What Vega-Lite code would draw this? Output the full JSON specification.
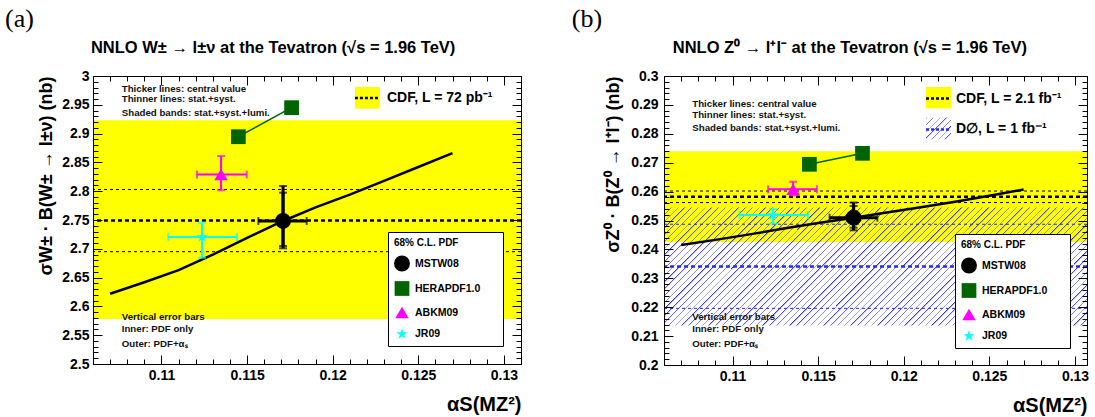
{
"$schema": "https://vega.github.io/schema/vega-lite/v6.json",
"padding": {"left": 4, "top": 5, "right": 8, "bottom": 0},
"bounds": "flush",
"spacing": 143,
"resolve": {"scale": {"color": "independent", "shape": "independent", "size": "independent"}, "legend": {"color": "independent", "shape": "independent", "size": "independent"}},
"config": {
  "font": "Liberation Sans",
  "view": {"stroke": "black", "strokeWidth": 1},
  "axis": {"grid": false, "domainColor": "black", "domainWidth": 1, "tickColor": "black", "tickWidth": 1, "labelColor": "black", "labelFont": "Liberation Sans", "labelFontWeight": "bold", "labelFontSize": 14, "titleColor": "black", "titleFont": "Liberation Sans", "titleFontWeight": "bold", "labelFlush": false, "labelOverlap": false},
  "legend": {"labelFont": "Liberation Sans", "titleFont": "Liberation Sans", "labelColor": "black", "titleColor": "black", "labelFontWeight": "bold", "titleFontWeight": "bold", "labelFontSize": 10.5, "titleFontSize": 10, "fillColor": "white", "strokeColor": "black", "padding": 6, "rowPadding": 9.5, "titlePadding": 7.5, "labelOffset": 5, "symbolStrokeWidth": 0},
  "text": {"font": "Liberation Sans"}
},
"datasets": {
  "bandW": [{"exp": "CDF", "v": 2.578, "v2": 2.923}],
  "lineW": [{"exp": "CDF", "k": "central", "v": 2.749}, {"exp": "CDF", "k": "stat+syst", "v": 2.695}, {"exp": "CDF", "k": "stat+syst", "v": 2.803}],
  "curveW": [{"a": 0.107, "v": 2.622}, {"a": 0.109, "v": 2.642}, {"a": 0.111, "v": 2.663}, {"a": 0.113, "v": 2.69}, {"a": 0.115, "v": 2.719}, {"a": 0.117, "v": 2.747}, {"a": 0.119, "v": 2.772}, {"a": 0.121, "v": 2.794}, {"a": 0.123, "v": 2.818}, {"a": 0.125, "v": 2.842}, {"a": 0.127, "v": 2.866}],
  "ptsW": [{"pdf": "MSTW08", "a": 0.1171, "v": 2.7483}, {"pdf": "HERAPDF1.0", "a": 0.11449, "v": 2.8946}, {"pdf": "HERAPDF1.0", "a": 0.1176, "v": 2.945}, {"pdf": "ABKM09", "a": 0.11348, "v": 2.829}, {"pdf": "JR09", "a": 0.11237, "v": 2.7205}],
  "errW": [
    {"pdf": "MSTW08", "dir": "v", "k": "outer", "a": 0.1171, "v": 2.7009, "v2": 2.809},
    {"pdf": "MSTW08", "dir": "v", "k": "inner", "a": 0.1171, "v": 2.7049, "v2": 2.7974},
    {"pdf": "ABKM09", "dir": "v", "k": "outer", "a": 0.11348, "v": 2.8016, "v2": 2.861},
    {"pdf": "JR09", "dir": "v", "k": "outer", "a": 0.11237, "v": 2.6845, "v2": 2.7453},
    {"pdf": "MSTW08", "dir": "h", "k": "alphas", "a": 0.11566, "a2": 0.11848, "v": 2.7483},
    {"pdf": "ABKM09", "dir": "h", "k": "alphas", "a": 0.11207, "a2": 0.11498, "v": 2.829},
    {"pdf": "JR09", "dir": "h", "k": "alphas", "a": 0.1104, "a2": 0.1144, "v": 2.7205}
  ],
  "noteW": [{"t": "Thicker lines: central value", "a": 0.10768, "v": 2.9769}, {"t": "Thinner lines: stat.+syst.", "a": 0.10768, "v": 2.9596}, {"t": "Shaded bands: stat.+syst.+lumi.", "a": 0.10768, "v": 2.9352}, {"t": "Vertical error bars", "a": 0.10768, "v": 2.5816}, {"t": "Inner: PDF only", "a": 0.10768, "v": 2.5602}, {"t": "Outer: PDF+αₛ", "a": 0.10768, "v": 2.5342}],
  "tagW": [{"t": "(a)", "a": 0.10086, "v": 3.122}],
  "headW": [{"t": "NNLO W± → l±ν at the Tevatron (√s = 1.96 TeV)", "a": 0.10588, "v": 3.0391}],
  "keyW": [{"exp": "CDF", "a": 0.1213, "a2": 0.12276, "v": 2.9432, "v2": 2.981, "vm": 2.962, "at": 0.12317, "t": "CDF, L = 72 pb⁻¹"}],
  "bandZ": [{"exp": "CDF", "v": 0.2426, "v2": 0.274}, {"exp": "D0", "v": 0.2137, "v2": 0.2545}],
  "lineZ": [{"exp": "CDF", "k": "central", "v": 0.2582}, {"exp": "CDF", "k": "stat+syst", "v": 0.2562}, {"exp": "CDF", "k": "stat+syst", "v": 0.2602}, {"exp": "D0", "k": "central", "v": 0.2341}, {"exp": "D0", "k": "stat+syst", "v": 0.2196}, {"exp": "D0", "k": "stat+syst", "v": 0.2487}],
  "curveZ": [{"a": 0.107, "v": 0.2415}, {"a": 0.109, "v": 0.2433}, {"a": 0.111, "v": 0.2452}, {"a": 0.113, "v": 0.2472}, {"a": 0.115, "v": 0.2491}, {"a": 0.117, "v": 0.2509}, {"a": 0.119, "v": 0.2528}, {"a": 0.121, "v": 0.2546}, {"a": 0.123, "v": 0.2565}, {"a": 0.125, "v": 0.2586}, {"a": 0.127, "v": 0.2607}],
  "ptsZ": [{"pdf": "MSTW08", "a": 0.11707, "v": 0.25097}, {"pdf": "HERAPDF1.0", "a": 0.11449, "v": 0.26945}, {"pdf": "HERAPDF1.0", "a": 0.11759, "v": 0.27325}, {"pdf": "ABKM09", "a": 0.11354, "v": 0.2608}, {"pdf": "JR09", "a": 0.11237, "v": 0.2519}],
  "errZ": [
    {"pdf": "MSTW08", "dir": "v", "k": "outer", "a": 0.11707, "v": 0.2466, "v2": 0.2562},
    {"pdf": "MSTW08", "dir": "v", "k": "inner", "a": 0.11707, "v": 0.2475, "v2": 0.255},
    {"pdf": "ABKM09", "dir": "v", "k": "outer", "a": 0.11354, "v": 0.2587, "v2": 0.2634},
    {"pdf": "JR09", "dir": "v", "k": "outer", "a": 0.11237, "v": 0.2489, "v2": 0.2539},
    {"pdf": "MSTW08", "dir": "h", "k": "alphas", "a": 0.11567, "a2": 0.11846, "v": 0.25097},
    {"pdf": "ABKM09", "dir": "h", "k": "alphas", "a": 0.11208, "a2": 0.11493, "v": 0.2608},
    {"pdf": "JR09", "dir": "h", "k": "alphas", "a": 0.11041, "a2": 0.11441, "v": 0.2519}
  ],
  "noteZ": [{"t": "Thicker lines: central value", "a": 0.10765, "v": 0.2902}, {"t": "Thinner lines: stat.+syst.", "a": 0.10765, "v": 0.2865}, {"t": "Shaded bands: stat.+syst.+lumi.", "a": 0.10765, "v": 0.2821}, {"t": "Vertical error bars", "a": 0.10765, "v": 0.21661}, {"t": "Inner: PDF only", "a": 0.10765, "v": 0.21235}, {"t": "Outer: PDF+αₛ", "a": 0.10765, "v": 0.20716}],
  "tagZ": [{"t": "(b)", "a": 0.10062, "v": 0.32433}],
  "headZ": [{"t": "NNLO Z⁰ → l⁺l⁻ at the Tevatron (√s = 1.96 TeV)", "a": 0.10651, "v": 0.30779}],
  "keyZ": [{"exp": "CDF", "a": 0.1213, "a2": 0.12276, "v": 0.28882, "v2": 0.2962, "vm": 0.2922, "at": 0.12305, "t": "CDF, L = 2.1 fb⁻¹"}, {"exp": "D0", "a": 0.1213, "a2": 0.12276, "v": 0.2781, "v2": 0.28557, "vm": 0.2815, "at": 0.12305, "t": "D∅, L = 1 fb⁻¹"}]
},
"hconcat": [
{
  "width": 428, "height": 288,
  "resolve": {"axis": {"x": "independent", "y": "independent"}},
  "layer": [
    {"data": {"name": "bandW"}, "mark": {"type": "rect", "color": "#ffff00"}, "encoding": {"y": {"field": "v", "type": "quantitative", "axis": null}, "y2": {"field": "v2"}}},
    {"data": {"name": "lineW"}, "mark": {"type": "rule", "color": "black"}, "encoding": {"y": {"field": "v", "type": "quantitative", "axis": null}, "strokeWidth": {"condition": {"test": "datum.k==='central'", "value": 2.5}, "value": 1}, "strokeDash": {"condition": {"test": "datum.k==='central'", "value": [4, 3]}, "value": [3, 3]}}},
    {"data": {"name": "curveW"}, "mark": {"type": "line", "color": "black", "strokeWidth": 2.5},
     "encoding": {
      "x": {"field": "a", "type": "quantitative", "scale": {"domain": [0.106, 0.131], "nice": false, "zero": false},
            "axis": {"orient": "bottom", "zindex": 1, "values": [0.107,0.108,0.109,0.11,0.111,0.112,0.113,0.114,0.115,0.116,0.117,0.118,0.119,0.12,0.121,0.122,0.123,0.124,0.125,0.126,0.127,0.128,0.129,0.13],
                     "labelExpr": "round(datum.value*1000)%5===0 ? format(datum.value,'.3~f') : ''",
                     "tickSize": {"condition": {"test": "round(datum.value*1000)%5===0", "value": -9}, "value": -5},
                     "labelPadding": 13, "title": "αS(MZ²)", "titleAnchor": "end", "titleFontSize": 20, "titlePadding": 8}},
      "y": {"field": "v", "type": "quantitative", "scale": {"domain": [2.5, 3], "nice": false, "zero": false},
            "axis": {"orient": "left", "zindex": 1, "values": [2.5,2.51,2.52,2.53,2.54,2.55,2.56,2.57,2.58,2.59,2.6,2.61,2.62,2.63,2.64,2.65,2.66,2.67,2.68,2.69,2.7,2.71,2.72,2.73,2.74,2.75,2.76,2.77,2.78,2.79,2.8,2.81,2.82,2.83,2.84,2.85,2.86,2.87,2.88,2.89,2.9,2.91,2.92,2.93,2.94,2.95,2.96,2.97,2.98,2.99,3],
                     "labelExpr": "round(datum.value*100)%5===0 ? format(datum.value,'.2~f') : ''",
                     "tickSize": {"condition": {"test": "round(datum.value*100)%5===0", "value": -9}, "value": -5},
                     "labelPadding": 13, "title": "σW± · B(W± → l±ν)  (nb)", "titleAnchor": "end", "titleFontSize": 18, "titlePadding": 6}}}},
    {"data": {"name": "ptsW"}, "transform": [{"filter": "datum.pdf==='HERAPDF1.0'"}], "mark": {"type": "line", "color": "#006400", "strokeWidth": 1.5},
     "encoding": {
      "x": {"field": "a", "type": "quantitative", "scale": {"domain": [0.106, 0.131], "nice": false, "zero": false},
            "axis": {"orient": "top", "zindex": 1, "labels": false, "title": null, "values": [0.107,0.108,0.109,0.11,0.111,0.112,0.113,0.114,0.115,0.116,0.117,0.118,0.119,0.12,0.121,0.122,0.123,0.124,0.125,0.126,0.127,0.128,0.129,0.13],
                     "tickSize": {"condition": {"test": "round(datum.value*1000)%5===0", "value": -9}, "value": -5}}},
      "y": {"field": "v", "type": "quantitative", "scale": {"domain": [2.5, 3], "nice": false, "zero": false},
            "axis": {"orient": "right", "zindex": 1, "labels": false, "title": null, "values": [2.5,2.51,2.52,2.53,2.54,2.55,2.56,2.57,2.58,2.59,2.6,2.61,2.62,2.63,2.64,2.65,2.66,2.67,2.68,2.69,2.7,2.71,2.72,2.73,2.74,2.75,2.76,2.77,2.78,2.79,2.8,2.81,2.82,2.83,2.84,2.85,2.86,2.87,2.88,2.89,2.9,2.91,2.92,2.93,2.94,2.95,2.96,2.97,2.98,2.99,3],
                     "tickSize": {"condition": {"test": "round(datum.value*100)%5===0", "value": -9}, "value": -5}}}}},
    {"data": {"name": "errW"}, "transform": [{"filter": "datum.dir==='v'"}], "mark": {"type": "rule"},
     "encoding": {"x": {"field": "a", "type": "quantitative", "axis": null}, "y": {"field": "v", "type": "quantitative", "axis": null}, "y2": {"field": "v2"},
      "color": {"condition": [{"test": "datum.pdf==='ABKM09'", "value": "#ff00ff"}, {"test": "datum.pdf==='JR09'", "value": "#00ffff"}], "value": "#000000"},
      "strokeWidth": {"condition": {"test": "datum.pdf==='MSTW08'", "value": 3}, "value": 2}}},
    {"data": {"name": "errW"}, "transform": [{"filter": "datum.dir==='h'"}], "mark": {"type": "rule"},
     "encoding": {"x": {"field": "a", "type": "quantitative", "axis": null}, "x2": {"field": "a2"}, "y": {"field": "v", "type": "quantitative", "axis": null},
      "color": {"condition": [{"test": "datum.pdf==='ABKM09'", "value": "#ff00ff"}, {"test": "datum.pdf==='JR09'", "value": "#00ffff"}], "value": "#000000"},
      "strokeWidth": {"condition": {"test": "datum.pdf==='MSTW08'", "value": 3}, "value": 2}}},
    {"data": {"name": "errW"}, "transform": [{"filter": "datum.dir==='v'"}], "mark": {"type": "tick", "orient": "horizontal", "size": 8, "thickness": 2},
     "encoding": {"x": {"field": "a", "type": "quantitative", "axis": null}, "y": {"field": "v", "type": "quantitative", "axis": null}, "color": {"condition": [{"test": "datum.pdf==='ABKM09'", "value": "#ff00ff"}, {"test": "datum.pdf==='JR09'", "value": "#00ffff"}], "value": "#000000"}}},
    {"data": {"name": "errW"}, "transform": [{"filter": "datum.dir==='v'"}], "mark": {"type": "tick", "orient": "horizontal", "size": 8, "thickness": 2},
     "encoding": {"x": {"field": "a", "type": "quantitative", "axis": null}, "y": {"field": "v2", "type": "quantitative", "axis": null}, "color": {"condition": [{"test": "datum.pdf==='ABKM09'", "value": "#ff00ff"}, {"test": "datum.pdf==='JR09'", "value": "#00ffff"}], "value": "#000000"}}},
    {"data": {"name": "errW"}, "transform": [{"filter": "datum.dir==='h'"}], "mark": {"type": "tick", "orient": "vertical", "size": 8, "thickness": 2},
     "encoding": {"x": {"field": "a", "type": "quantitative", "axis": null}, "y": {"field": "v", "type": "quantitative", "axis": null}, "color": {"condition": [{"test": "datum.pdf==='ABKM09'", "value": "#ff00ff"}, {"test": "datum.pdf==='JR09'", "value": "#00ffff"}], "value": "#000000"}}},
    {"data": {"name": "errW"}, "transform": [{"filter": "datum.dir==='h'"}], "mark": {"type": "tick", "orient": "vertical", "size": 8, "thickness": 2},
     "encoding": {"x": {"field": "a2", "type": "quantitative", "axis": null}, "y": {"field": "v", "type": "quantitative", "axis": null}, "color": {"condition": [{"test": "datum.pdf==='ABKM09'", "value": "#ff00ff"}, {"test": "datum.pdf==='JR09'", "value": "#00ffff"}], "value": "#000000"}}},
    {"data": {"name": "ptsW"}, "mark": {"type": "point", "filled": true, "opacity": 1},
     "encoding": {"x": {"field": "a", "type": "quantitative", "axis": null}, "y": {"field": "v", "type": "quantitative", "axis": null},
      "color": {"field": "pdf", "type": "nominal", "scale": {"domain": ["MSTW08", "HERAPDF1.0", "ABKM09", "JR09"], "range": ["#000000", "#006400", "#ff00ff", "#00ffff"]},
                "legend": {"orient": "bottom-right", "offset": 18, "title": "68% C.L. PDF", "labelExpr": "datum.label + '\u2800\u2800'"}},
      "shape": {"field": "pdf", "type": "nominal", "scale": {"domain": ["MSTW08", "HERAPDF1.0", "ABKM09", "JR09"], "range": ["circle", "square", "triangle-up", "M0,-1L0.2245,-0.309L0.9511,-0.309L0.3633,0.118L0.5878,0.809L0,0.382L-0.5878,0.809L-0.3633,0.118L-0.9511,-0.309L-0.2245,-0.309Z"]}},
      "size": {"field": "pdf", "type": "nominal", "scale": {"domain": ["MSTW08", "HERAPDF1.0", "ABKM09", "JR09"], "range": [254, 144, 150, 120]}}}},
    {"data": {"name": "noteW"}, "mark": {"type": "text", "align": "left", "baseline": "middle", "fontSize": 9.7, "fontWeight": "bold", "color": "#111111"},
     "encoding": {"x": {"field": "a", "type": "quantitative", "axis": null}, "y": {"field": "v", "type": "quantitative", "axis": null}, "text": {"field": "t"}}},
    {"data": {"name": "keyW"}, "mark": {"type": "rect", "color": "#ffff00"},
     "encoding": {"x": {"field": "a", "type": "quantitative", "axis": null}, "x2": {"field": "a2"}, "y": {"field": "v", "type": "quantitative", "axis": null}, "y2": {"field": "v2"}}},
    {"data": {"name": "keyW"}, "mark": {"type": "rule", "color": "black", "strokeWidth": 2.5, "strokeDash": [3, 2]},
     "encoding": {"x": {"field": "a", "type": "quantitative", "axis": null}, "x2": {"field": "a2"}, "y": {"field": "vm", "type": "quantitative", "axis": null}}},
    {"data": {"name": "keyW"}, "mark": {"type": "text", "align": "left", "baseline": "middle", "fontSize": 14, "fontWeight": "bold", "color": "black"},
     "encoding": {"x": {"field": "at", "type": "quantitative", "axis": null}, "y": {"field": "vm", "type": "quantitative", "axis": null}, "text": {"field": "t"}}},
    {"data": {"name": "headW"}, "mark": {"type": "text", "align": "left", "baseline": "alphabetic", "fontSize": 16.5, "fontWeight": "bold", "color": "black"},
     "encoding": {"x": {"field": "a", "type": "quantitative", "axis": null}, "y": {"field": "v", "type": "quantitative", "axis": null}, "text": {"field": "t"}}},
    {"data": {"name": "tagW"}, "mark": {"type": "text", "align": "left", "baseline": "top", "font": "Liberation Serif", "fontSize": 26, "color": "black"},
     "encoding": {"x": {"field": "a", "type": "quantitative", "axis": null}, "y": {"field": "v", "type": "quantitative", "axis": null}, "text": {"field": "t"}}}
  ]
},
{
  "width": 423, "height": 289,
  "resolve": {"axis": {"x": "independent", "y": "independent"}},
  "layer": [
    {"data": {"name": "bandZ"}, "transform": [{"filter": "datum.exp==='CDF'"}], "mark": {"type": "rect", "color": "#ffff00"}, "encoding": {"y": {"field": "v", "type": "quantitative", "axis": null}, "y2": {"field": "v2"}}},
    {"data": {"name": "bandZ"}, "transform": [{"filter": "datum.exp==='D0'"}],
     "mark": {"type": "rect", "fill": {"gradient": "linear", "x1": 0, "y1": 0, "x2": 1.1865, "y2": 0.3304, "stops": [
{"offset":0,"color":"#2828ff"},{"offset":0.003,"color":"#2828ff00"},{"offset":0.0125,"color":"#2828ff00"},
{"offset":0.0125,"color":"#2828ff"},{"offset":0.0155,"color":"#2828ff00"},{"offset":0.025,"color":"#2828ff00"},
{"offset":0.025,"color":"#2828ff"},{"offset":0.028,"color":"#2828ff00"},{"offset":0.0375,"color":"#2828ff00"},
{"offset":0.0375,"color":"#2828ff"},{"offset":0.0405,"color":"#2828ff00"},{"offset":0.05,"color":"#2828ff00"},
{"offset":0.05,"color":"#2828ff"},{"offset":0.053,"color":"#2828ff00"},{"offset":0.0625,"color":"#2828ff00"},
{"offset":0.0625,"color":"#2828ff"},{"offset":0.0655,"color":"#2828ff00"},{"offset":0.075,"color":"#2828ff00"},
{"offset":0.075,"color":"#2828ff"},{"offset":0.078,"color":"#2828ff00"},{"offset":0.0875,"color":"#2828ff00"},
{"offset":0.0875,"color":"#2828ff"},{"offset":0.0905,"color":"#2828ff00"},{"offset":0.1,"color":"#2828ff00"},
{"offset":0.1,"color":"#2828ff"},{"offset":0.103,"color":"#2828ff00"},{"offset":0.1125,"color":"#2828ff00"},
{"offset":0.1125,"color":"#2828ff"},{"offset":0.1155,"color":"#2828ff00"},{"offset":0.125,"color":"#2828ff00"},
{"offset":0.125,"color":"#2828ff"},{"offset":0.128,"color":"#2828ff00"},{"offset":0.1375,"color":"#2828ff00"},
{"offset":0.1375,"color":"#2828ff"},{"offset":0.1405,"color":"#2828ff00"},{"offset":0.15,"color":"#2828ff00"},
{"offset":0.15,"color":"#2828ff"},{"offset":0.153,"color":"#2828ff00"},{"offset":0.1625,"color":"#2828ff00"},
{"offset":0.1625,"color":"#2828ff"},{"offset":0.1655,"color":"#2828ff00"},{"offset":0.175,"color":"#2828ff00"},
{"offset":0.175,"color":"#2828ff"},{"offset":0.178,"color":"#2828ff00"},{"offset":0.1875,"color":"#2828ff00"},
{"offset":0.1875,"color":"#2828ff"},{"offset":0.1905,"color":"#2828ff00"},{"offset":0.2,"color":"#2828ff00"},
{"offset":0.2,"color":"#2828ff"},{"offset":0.203,"color":"#2828ff00"},{"offset":0.2125,"color":"#2828ff00"},
{"offset":0.2125,"color":"#2828ff"},{"offset":0.2155,"color":"#2828ff00"},{"offset":0.225,"color":"#2828ff00"},
{"offset":0.225,"color":"#2828ff"},{"offset":0.228,"color":"#2828ff00"},{"offset":0.2375,"color":"#2828ff00"},
{"offset":0.2375,"color":"#2828ff"},{"offset":0.2405,"color":"#2828ff00"},{"offset":0.25,"color":"#2828ff00"},
{"offset":0.25,"color":"#2828ff"},{"offset":0.253,"color":"#2828ff00"},{"offset":0.2625,"color":"#2828ff00"},
{"offset":0.2625,"color":"#2828ff"},{"offset":0.2655,"color":"#2828ff00"},{"offset":0.275,"color":"#2828ff00"},
{"offset":0.275,"color":"#2828ff"},{"offset":0.278,"color":"#2828ff00"},{"offset":0.2875,"color":"#2828ff00"},
{"offset":0.2875,"color":"#2828ff"},{"offset":0.2905,"color":"#2828ff00"},{"offset":0.3,"color":"#2828ff00"},
{"offset":0.3,"color":"#2828ff"},{"offset":0.303,"color":"#2828ff00"},{"offset":0.3125,"color":"#2828ff00"},
{"offset":0.3125,"color":"#2828ff"},{"offset":0.3155,"color":"#2828ff00"},{"offset":0.325,"color":"#2828ff00"},
{"offset":0.325,"color":"#2828ff"},{"offset":0.328,"color":"#2828ff00"},{"offset":0.3375,"color":"#2828ff00"},
{"offset":0.3375,"color":"#2828ff"},{"offset":0.3405,"color":"#2828ff00"},{"offset":0.35,"color":"#2828ff00"},
{"offset":0.35,"color":"#2828ff"},{"offset":0.353,"color":"#2828ff00"},{"offset":0.3625,"color":"#2828ff00"},
{"offset":0.3625,"color":"#2828ff"},{"offset":0.3655,"color":"#2828ff00"},{"offset":0.375,"color":"#2828ff00"},
{"offset":0.375,"color":"#2828ff"},{"offset":0.378,"color":"#2828ff00"},{"offset":0.3875,"color":"#2828ff00"},
{"offset":0.3875,"color":"#2828ff"},{"offset":0.3905,"color":"#2828ff00"},{"offset":0.4,"color":"#2828ff00"},
{"offset":0.4,"color":"#2828ff"},{"offset":0.403,"color":"#2828ff00"},{"offset":0.4125,"color":"#2828ff00"},
{"offset":0.4125,"color":"#2828ff"},{"offset":0.4155,"color":"#2828ff00"},{"offset":0.425,"color":"#2828ff00"},
{"offset":0.425,"color":"#2828ff"},{"offset":0.428,"color":"#2828ff00"},{"offset":0.4375,"color":"#2828ff00"},
{"offset":0.4375,"color":"#2828ff"},{"offset":0.4405,"color":"#2828ff00"},{"offset":0.45,"color":"#2828ff00"},
{"offset":0.45,"color":"#2828ff"},{"offset":0.453,"color":"#2828ff00"},{"offset":0.4625,"color":"#2828ff00"},
{"offset":0.4625,"color":"#2828ff"},{"offset":0.4655,"color":"#2828ff00"},{"offset":0.475,"color":"#2828ff00"},
{"offset":0.475,"color":"#2828ff"},{"offset":0.478,"color":"#2828ff00"},{"offset":0.4875,"color":"#2828ff00"},
{"offset":0.4875,"color":"#2828ff"},{"offset":0.4905,"color":"#2828ff00"},{"offset":0.5,"color":"#2828ff00"},
{"offset":0.5,"color":"#2828ff"},{"offset":0.503,"color":"#2828ff00"},{"offset":0.5125,"color":"#2828ff00"},
{"offset":0.5125,"color":"#2828ff"},{"offset":0.5155,"color":"#2828ff00"},{"offset":0.525,"color":"#2828ff00"},
{"offset":0.525,"color":"#2828ff"},{"offset":0.528,"color":"#2828ff00"},{"offset":0.5375,"color":"#2828ff00"},
{"offset":0.5375,"color":"#2828ff"},{"offset":0.5405,"color":"#2828ff00"},{"offset":0.55,"color":"#2828ff00"},
{"offset":0.55,"color":"#2828ff"},{"offset":0.553,"color":"#2828ff00"},{"offset":0.5625,"color":"#2828ff00"},
{"offset":0.5625,"color":"#2828ff"},{"offset":0.5655,"color":"#2828ff00"},{"offset":0.575,"color":"#2828ff00"},
{"offset":0.575,"color":"#2828ff"},{"offset":0.578,"color":"#2828ff00"},{"offset":0.5875,"color":"#2828ff00"},
{"offset":0.5875,"color":"#2828ff"},{"offset":0.5905,"color":"#2828ff00"},{"offset":0.6,"color":"#2828ff00"},
{"offset":0.6,"color":"#2828ff"},{"offset":0.603,"color":"#2828ff00"},{"offset":0.6125,"color":"#2828ff00"},
{"offset":0.6125,"color":"#2828ff"},{"offset":0.6155,"color":"#2828ff00"},{"offset":0.625,"color":"#2828ff00"},
{"offset":0.625,"color":"#2828ff"},{"offset":0.628,"color":"#2828ff00"},{"offset":0.6375,"color":"#2828ff00"},
{"offset":0.6375,"color":"#2828ff"},{"offset":0.6405,"color":"#2828ff00"},{"offset":0.65,"color":"#2828ff00"},
{"offset":0.65,"color":"#2828ff"},{"offset":0.653,"color":"#2828ff00"},{"offset":0.6625,"color":"#2828ff00"},
{"offset":0.6625,"color":"#2828ff"},{"offset":0.6655,"color":"#2828ff00"},{"offset":0.675,"color":"#2828ff00"},
{"offset":0.675,"color":"#2828ff"},{"offset":0.678,"color":"#2828ff00"},{"offset":0.6875,"color":"#2828ff00"},
{"offset":0.6875,"color":"#2828ff"},{"offset":0.6905,"color":"#2828ff00"},{"offset":0.7,"color":"#2828ff00"},
{"offset":0.7,"color":"#2828ff"},{"offset":0.703,"color":"#2828ff00"},{"offset":0.7125,"color":"#2828ff00"},
{"offset":0.7125,"color":"#2828ff"},{"offset":0.7155,"color":"#2828ff00"},{"offset":0.725,"color":"#2828ff00"},
{"offset":0.725,"color":"#2828ff"},{"offset":0.728,"color":"#2828ff00"},{"offset":0.7375,"color":"#2828ff00"},
{"offset":0.7375,"color":"#2828ff"},{"offset":0.7405,"color":"#2828ff00"},{"offset":0.75,"color":"#2828ff00"},
{"offset":0.75,"color":"#2828ff"},{"offset":0.753,"color":"#2828ff00"},{"offset":0.7625,"color":"#2828ff00"},
{"offset":0.7625,"color":"#2828ff"},{"offset":0.7655,"color":"#2828ff00"},{"offset":0.775,"color":"#2828ff00"},
{"offset":0.775,"color":"#2828ff"},{"offset":0.778,"color":"#2828ff00"},{"offset":0.7875,"color":"#2828ff00"},
{"offset":0.7875,"color":"#2828ff"},{"offset":0.7905,"color":"#2828ff00"},{"offset":0.8,"color":"#2828ff00"},
{"offset":0.8,"color":"#2828ff"},{"offset":0.803,"color":"#2828ff00"},{"offset":0.8125,"color":"#2828ff00"},
{"offset":0.8125,"color":"#2828ff"},{"offset":0.8155,"color":"#2828ff00"},{"offset":0.825,"color":"#2828ff00"},
{"offset":0.825,"color":"#2828ff"},{"offset":0.828,"color":"#2828ff00"},{"offset":0.8375,"color":"#2828ff00"},
{"offset":0.8375,"color":"#2828ff"},{"offset":0.8405,"color":"#2828ff00"},{"offset":0.85,"color":"#2828ff00"},
{"offset":0.85,"color":"#2828ff"},{"offset":0.853,"color":"#2828ff00"},{"offset":0.8625,"color":"#2828ff00"},
{"offset":0.8625,"color":"#2828ff"},{"offset":0.8655,"color":"#2828ff00"},{"offset":0.875,"color":"#2828ff00"},
{"offset":0.875,"color":"#2828ff"},{"offset":0.878,"color":"#2828ff00"},{"offset":0.8875,"color":"#2828ff00"},
{"offset":0.8875,"color":"#2828ff"},{"offset":0.8905,"color":"#2828ff00"},{"offset":0.9,"color":"#2828ff00"},
{"offset":0.9,"color":"#2828ff"},{"offset":0.903,"color":"#2828ff00"},{"offset":0.9125,"color":"#2828ff00"},
{"offset":0.9125,"color":"#2828ff"},{"offset":0.9155,"color":"#2828ff00"},{"offset":0.925,"color":"#2828ff00"},
{"offset":0.925,"color":"#2828ff"},{"offset":0.928,"color":"#2828ff00"},{"offset":0.9375,"color":"#2828ff00"},
{"offset":0.9375,"color":"#2828ff"},{"offset":0.9405,"color":"#2828ff00"},{"offset":0.95,"color":"#2828ff00"},
{"offset":0.95,"color":"#2828ff"},{"offset":0.953,"color":"#2828ff00"},{"offset":0.9625,"color":"#2828ff00"},
{"offset":0.9625,"color":"#2828ff"},{"offset":0.9655,"color":"#2828ff00"},{"offset":0.975,"color":"#2828ff00"},
{"offset":0.975,"color":"#2828ff"},{"offset":0.978,"color":"#2828ff00"},{"offset":0.9875,"color":"#2828ff00"},
{"offset":0.9875,"color":"#2828ff"},{"offset":0.9905,"color":"#2828ff00"},{"offset":1,"color":"#2828ff00"}
]}},
     "encoding": {"y": {"field": "v", "type": "quantitative", "axis": null}, "y2": {"field": "v2"}}},
    {"data": {"name": "lineZ"}, "mark": {"type": "rule"}, "encoding": {"y": {"field": "v", "type": "quantitative", "axis": null},
      "color": {"condition": {"test": "datum.exp==='D0'", "value": "#2828ff"}, "value": "black"},
      "strokeWidth": {"condition": {"test": "datum.k==='central'", "value": 2.5}, "value": 1}, "strokeDash": {"condition": {"test": "datum.k==='central'", "value": [4, 3]}, "value": [3, 3]}}},
    {"data": {"name": "curveZ"}, "mark": {"type": "line", "color": "black", "strokeWidth": 2.5},
     "encoding": {
      "x": {"field": "a", "type": "quantitative", "scale": {"domain": [0.106, 0.1307], "nice": false, "zero": false},
            "axis": {"orient": "bottom", "zindex": 1, "values": [0.107,0.108,0.109,0.11,0.111,0.112,0.113,0.114,0.115,0.116,0.117,0.118,0.119,0.12,0.121,0.122,0.123,0.124,0.125,0.126,0.127,0.128,0.129,0.13],
                     "labelExpr": "round(datum.value*1000)%5===0 ? format(datum.value,'.3~f') : ''",
                     "tickSize": {"condition": {"test": "round(datum.value*1000)%5===0", "value": -9}, "value": -5},
                     "labelPadding": 13, "title": "αS(MZ²)", "titleAnchor": "end", "titleFontSize": 20, "titlePadding": 8}},
      "y": {"field": "v", "type": "quantitative", "scale": {"domain": [0.2, 0.3], "nice": false, "zero": false},
            "axis": {"orient": "left", "zindex": 1, "values": [0.2,0.202,0.204,0.206,0.208,0.21,0.212,0.214,0.216,0.218,0.22,0.222,0.224,0.226,0.228,0.23,0.232,0.234,0.236,0.238,0.24,0.242,0.244,0.246,0.248,0.25,0.252,0.254,0.256,0.258,0.26,0.262,0.264,0.266,0.268,0.27,0.272,0.274,0.276,0.278,0.28,0.282,0.284,0.286,0.288,0.29,0.292,0.294,0.296,0.298,0.3],
                     "labelExpr": "round(datum.value*1000)%10===0 ? format(datum.value,'.2~f') : ''",
                     "tickSize": {"condition": {"test": "round(datum.value*1000)%10===0", "value": -9}, "value": -5},
                     "labelPadding": 15, "title": "σZ⁰ · B(Z⁰ → l⁺l⁻)  (nb)", "titleAnchor": "end", "titleFontSize": 18, "titlePadding": 8}}}},
    {"data": {"name": "ptsZ"}, "transform": [{"filter": "datum.pdf==='HERAPDF1.0'"}], "mark": {"type": "line", "color": "#006400", "strokeWidth": 1.5},
     "encoding": {
      "x": {"field": "a", "type": "quantitative", "scale": {"domain": [0.106, 0.1307], "nice": false, "zero": false},
            "axis": {"orient": "top", "zindex": 1, "labels": false, "title": null, "values": [0.107,0.108,0.109,0.11,0.111,0.112,0.113,0.114,0.115,0.116,0.117,0.118,0.119,0.12,0.121,0.122,0.123,0.124,0.125,0.126,0.127,0.128,0.129,0.13],
                     "tickSize": {"condition": {"test": "round(datum.value*1000)%5===0", "value": -9}, "value": -5}}},
      "y": {"field": "v", "type": "quantitative", "scale": {"domain": [0.2, 0.3], "nice": false, "zero": false},
            "axis": {"orient": "right", "zindex": 1, "labels": false, "title": null, "values": [0.2,0.202,0.204,0.206,0.208,0.21,0.212,0.214,0.216,0.218,0.22,0.222,0.224,0.226,0.228,0.23,0.232,0.234,0.236,0.238,0.24,0.242,0.244,0.246,0.248,0.25,0.252,0.254,0.256,0.258,0.26,0.262,0.264,0.266,0.268,0.27,0.272,0.274,0.276,0.278,0.28,0.282,0.284,0.286,0.288,0.29,0.292,0.294,0.296,0.298,0.3],
                     "tickSize": {"condition": {"test": "round(datum.value*1000)%10===0", "value": -9}, "value": -5}}}}},
    {"data": {"name": "errZ"}, "transform": [{"filter": "datum.dir==='v'"}], "mark": {"type": "rule"},
     "encoding": {"x": {"field": "a", "type": "quantitative", "axis": null}, "y": {"field": "v", "type": "quantitative", "axis": null}, "y2": {"field": "v2"},
      "color": {"condition": [{"test": "datum.pdf==='ABKM09'", "value": "#ff00ff"}, {"test": "datum.pdf==='JR09'", "value": "#00ffff"}], "value": "#000000"},
      "strokeWidth": {"condition": {"test": "datum.pdf==='MSTW08'", "value": 3}, "value": 2}}},
    {"data": {"name": "errZ"}, "transform": [{"filter": "datum.dir==='h'"}], "mark": {"type": "rule"},
     "encoding": {"x": {"field": "a", "type": "quantitative", "axis": null}, "x2": {"field": "a2"}, "y": {"field": "v", "type": "quantitative", "axis": null},
      "color": {"condition": [{"test": "datum.pdf==='ABKM09'", "value": "#ff00ff"}, {"test": "datum.pdf==='JR09'", "value": "#00ffff"}], "value": "#000000"},
      "strokeWidth": {"condition": {"test": "datum.pdf==='MSTW08'", "value": 3}, "value": 2}}},
    {"data": {"name": "errZ"}, "transform": [{"filter": "datum.dir==='v'"}], "mark": {"type": "tick", "orient": "horizontal", "size": 8, "thickness": 2},
     "encoding": {"x": {"field": "a", "type": "quantitative", "axis": null}, "y": {"field": "v", "type": "quantitative", "axis": null}, "color": {"condition": [{"test": "datum.pdf==='ABKM09'", "value": "#ff00ff"}, {"test": "datum.pdf==='JR09'", "value": "#00ffff"}], "value": "#000000"}}},
    {"data": {"name": "errZ"}, "transform": [{"filter": "datum.dir==='v'"}], "mark": {"type": "tick", "orient": "horizontal", "size": 8, "thickness": 2},
     "encoding": {"x": {"field": "a", "type": "quantitative", "axis": null}, "y": {"field": "v2", "type": "quantitative", "axis": null}, "color": {"condition": [{"test": "datum.pdf==='ABKM09'", "value": "#ff00ff"}, {"test": "datum.pdf==='JR09'", "value": "#00ffff"}], "value": "#000000"}}},
    {"data": {"name": "errZ"}, "transform": [{"filter": "datum.dir==='h'"}], "mark": {"type": "tick", "orient": "vertical", "size": 8, "thickness": 2},
     "encoding": {"x": {"field": "a", "type": "quantitative", "axis": null}, "y": {"field": "v", "type": "quantitative", "axis": null}, "color": {"condition": [{"test": "datum.pdf==='ABKM09'", "value": "#ff00ff"}, {"test": "datum.pdf==='JR09'", "value": "#00ffff"}], "value": "#000000"}}},
    {"data": {"name": "errZ"}, "transform": [{"filter": "datum.dir==='h'"}], "mark": {"type": "tick", "orient": "vertical", "size": 8, "thickness": 2},
     "encoding": {"x": {"field": "a2", "type": "quantitative", "axis": null}, "y": {"field": "v", "type": "quantitative", "axis": null}, "color": {"condition": [{"test": "datum.pdf==='ABKM09'", "value": "#ff00ff"}, {"test": "datum.pdf==='JR09'", "value": "#00ffff"}], "value": "#000000"}}},
    {"data": {"name": "ptsZ"}, "mark": {"type": "point", "filled": true, "opacity": 1},
     "encoding": {"x": {"field": "a", "type": "quantitative", "axis": null}, "y": {"field": "v", "type": "quantitative", "axis": null},
      "color": {"field": "pdf", "type": "nominal", "scale": {"domain": ["MSTW08", "HERAPDF1.0", "ABKM09", "JR09"], "range": ["#000000", "#006400", "#ff00ff", "#00ffff"]},
                "legend": {"orient": "bottom-right", "offset": 17, "title": "68% C.L. PDF", "labelExpr": "datum.label + '\u2800\u2800'"}},
      "shape": {"field": "pdf", "type": "nominal", "scale": {"domain": ["MSTW08", "HERAPDF1.0", "ABKM09", "JR09"], "range": ["circle", "square", "triangle-up", "M0,-1L0.2245,-0.309L0.9511,-0.309L0.3633,0.118L0.5878,0.809L0,0.382L-0.5878,0.809L-0.3633,0.118L-0.9511,-0.309L-0.2245,-0.309Z"]}},
      "size": {"field": "pdf", "type": "nominal", "scale": {"domain": ["MSTW08", "HERAPDF1.0", "ABKM09", "JR09"], "range": [254, 144, 150, 120]}}}},
    {"data": {"name": "noteZ"}, "mark": {"type": "text", "align": "left", "baseline": "middle", "fontSize": 9.7, "fontWeight": "bold", "color": "#111111"},
     "encoding": {"x": {"field": "a", "type": "quantitative", "axis": null}, "y": {"field": "v", "type": "quantitative", "axis": null}, "text": {"field": "t"}}},
    {"data": {"name": "keyZ"}, "transform": [{"filter": "datum.exp==='CDF'"}], "mark": {"type": "rect", "color": "#ffff00"},
     "encoding": {"x": {"field": "a", "type": "quantitative", "axis": null}, "x2": {"field": "a2"}, "y": {"field": "v", "type": "quantitative", "axis": null}, "y2": {"field": "v2"}}},
    {"data": {"name": "keyZ"}, "transform": [{"filter": "datum.exp==='D0'"}],
     "mark": {"type": "rect", "fill": {"gradient": "linear", "x1": 0, "y1": 0, "x2": 1.069, "y2": 0.92, "stops": [
{"offset":0,"color":"#2828ff"},{"offset":0.035,"color":"#2828ff00"},{"offset":0.1429,"color":"#2828ff00"},
{"offset":0.1429,"color":"#2828ff"},{"offset":0.1779,"color":"#2828ff00"},{"offset":0.2857,"color":"#2828ff00"},
{"offset":0.2857,"color":"#2828ff"},{"offset":0.3207,"color":"#2828ff00"},{"offset":0.4286,"color":"#2828ff00"},
{"offset":0.4286,"color":"#2828ff"},{"offset":0.4636,"color":"#2828ff00"},{"offset":0.5714,"color":"#2828ff00"},
{"offset":0.5714,"color":"#2828ff"},{"offset":0.6064,"color":"#2828ff00"},{"offset":0.7143,"color":"#2828ff00"},
{"offset":0.7143,"color":"#2828ff"},{"offset":0.7493,"color":"#2828ff00"},{"offset":0.8571,"color":"#2828ff00"},
{"offset":0.8571,"color":"#2828ff"},{"offset":0.8921,"color":"#2828ff00"},{"offset":1,"color":"#2828ff00"}
]}},
     "encoding": {"x": {"field": "a", "type": "quantitative", "axis": null}, "x2": {"field": "a2"}, "y": {"field": "v", "type": "quantitative", "axis": null}, "y2": {"field": "v2"}}},
    {"data": {"name": "keyZ"}, "mark": {"type": "rule", "strokeWidth": 2.5, "strokeDash": [3, 2]},
     "encoding": {"x": {"field": "a", "type": "quantitative", "axis": null}, "x2": {"field": "a2"}, "y": {"field": "vm", "type": "quantitative", "axis": null},
      "color": {"condition": {"test": "datum.exp==='D0'", "value": "#2828ff"}, "value": "black"}}},
    {"data": {"name": "keyZ"}, "mark": {"type": "text", "align": "left", "baseline": "middle", "fontSize": 14, "fontWeight": "bold", "color": "black"},
     "encoding": {"x": {"field": "at", "type": "quantitative", "axis": null}, "y": {"field": "vm", "type": "quantitative", "axis": null}, "text": {"field": "t"}}},
    {"data": {"name": "headZ"}, "mark": {"type": "text", "align": "left", "baseline": "alphabetic", "fontSize": 16.5, "fontWeight": "bold", "color": "black"},
     "encoding": {"x": {"field": "a", "type": "quantitative", "axis": null}, "y": {"field": "v", "type": "quantitative", "axis": null}, "text": {"field": "t"}}},
    {"data": {"name": "tagZ"}, "mark": {"type": "text", "align": "left", "baseline": "top", "font": "Liberation Serif", "fontSize": 26, "color": "black"},
     "encoding": {"x": {"field": "a", "type": "quantitative", "axis": null}, "y": {"field": "v", "type": "quantitative", "axis": null}, "text": {"field": "t"}}}
  ]
}
]
}
